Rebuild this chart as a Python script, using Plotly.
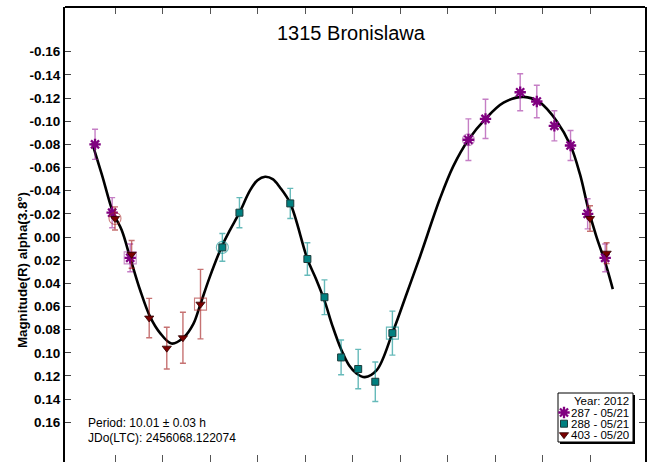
import plotly.graph_objects as go

# ---- Fourier fit of the lightcurve, sampled along rotational phase ----
fit_phase = [-0.048, -0.027, -0.004, 0.014, 0.032, 0.053, 0.074, 0.095, 0.119, 0.144,
             0.165, 0.179, 0.200, 0.225, 0.242, 0.262, 0.284, 0.300, 0.316, 0.332,
             0.347, 0.369, 0.405, 0.423, 0.441, 0.458, 0.476, 0.493, 0.509, 0.526,
             0.551, 0.584, 0.614, 0.642, 0.684, 0.712, 0.744, 0.780, 0.818, 0.860,
             0.895, 0.930, 0.959, 0.979, 0.996, 1.013, 1.032, 1.048]
fit_mag = [-0.081, -0.053, -0.021, -0.006, 0.018, 0.046, 0.069, 0.083, 0.092, 0.087,
           0.075, 0.059, 0.034, 0.008, -0.006, -0.021, -0.040, -0.049, -0.052, -0.050,
           -0.043, -0.029, 0.019, 0.036, 0.055, 0.077, 0.097, 0.111, 0.118, 0.121,
           0.115, 0.083, 0.049, 0.017, -0.033, -0.061, -0.084, -0.102, -0.116, -0.121,
           -0.116, -0.100, -0.079, -0.054, -0.025, -0.001, 0.022, 0.045]

# ---- Session 287 (2012-05-21) ----
s287_phase = [-0.042, -0.006, 0.032, 0.744, 0.780, 0.853, 0.888, 0.925, 0.959, 0.995, 1.032]
s287_mag = [-0.080, -0.021, 0.018, -0.084, -0.102, -0.125, -0.117, -0.096, -0.079, -0.020, 0.018]
s287_err = [0.013, 0.013, 0.012, 0.018, 0.017, 0.016, 0.014, 0.013, 0.013, 0.013, 0.012]
s287_first, s287_last = 3, 2

# ---- Session 288 (2012-05-21) ----
s288_phase = [0.226, 0.262, 0.369, 0.405, 0.441, 0.476, 0.512, 0.548, 0.584]
s288_mag = [0.009, -0.021, -0.029, 0.019, 0.052, 0.104, 0.114, 0.125, 0.083]
s288_err = [0.012, 0.013, 0.013, 0.014, 0.015, 0.015, 0.017, 0.017, 0.019]
s288_first, s288_last = 0, 8

# ---- Session 403 (2012-05-20) ----
s403_phase = [0.000, 0.035, 0.072, 0.109, 0.143, 0.180, 1.000, 1.035]
s403_mag = [-0.016, 0.015, 0.070, 0.096, 0.087, 0.058, -0.016, 0.014]
s403_err = [0.010, 0.012, 0.017, 0.018, 0.022, 0.030, 0.011, 0.009]
s403_first, s403_last = 0, 5

legend_labels = ["287 - 05/21", "288 - 05/21", "403 - 05/20"]
legend_title = "Year: 2012"
y_tick_vals = [-0.16, -0.14, -0.12, -0.10, -0.08, -0.06, -0.04, -0.02, 0.00,
               0.02, 0.04, 0.06, 0.08, 0.10, 0.12, 0.14, 0.16]
y_tick_text = ["-0.16", "-0.14", "-0.12", "-0.10", "-0.08", "-0.06", "-0.04", "-0.02", "0.00",
               "0.02", "0.04", "0.06", "0.08", "0.10", "0.12", "0.14", "0.16"]
x_tick_vals = [0.0, 0.1, 0.2, 0.3, 0.4, 0.5, 0.6, 0.7, 0.8, 0.9, 1.0]

W, H = 649, 462
ML, MR, MT, MB = 65, 4, 7, 0
FONT = "Liberation Sans, Arial, sans-serif"

series = [
    dict(x=s287_phase, y=s287_mag, e=s287_err, first=s287_first, last=s287_last,
         symbol="asterisk-open", size=9.5, color="#800080", line=dict(color="#800080", width=2.3),
         err="rgba(150,20,150,0.55)", ring="rgba(150,40,150,0.55)"),
    dict(x=s288_phase, y=s288_mag, e=s288_err, first=s288_first, last=s288_last,
         symbol="square", size=7, color="#008080", line=dict(color="#1a3a3a", width=1),
         err="rgba(0,140,140,0.6)", ring="rgba(0,140,140,0.6)"),
    dict(x=s403_phase, y=s403_mag, e=s403_err, first=s403_first, last=s403_last,
         symbol="triangle-down", size=8, color="#7a0000", line=dict(color="#300000", width=0.8),
         err="rgba(160,20,20,0.6)", ring="rgba(170,40,40,0.6)"),
]

fig = go.Figure()

fig.add_trace(go.Scatter(x=fit_phase, y=fit_mag, mode="lines",
                         line=dict(color="black", width=2.6, shape="spline", smoothing=1.0),
                         hoverinfo="skip"))

for s in series:
    fig.add_trace(go.Scatter(
        x=s["x"], y=s["y"], mode="markers",
        error_y=dict(type="data", array=s["e"], color=s["err"], thickness=1.4, width=3),
        marker=dict(symbol=s["symbol"], size=s["size"], color=s["color"], line=s["line"])))
    # first point of the session: open circle, last point: open square
    fig.add_trace(go.Scatter(
        x=[s["x"][s["first"]]], y=[s["y"][s["first"]]], mode="markers",
        marker=dict(symbol="circle-open", size=12, color=s["ring"], line=dict(width=1.1))))
    fig.add_trace(go.Scatter(
        x=[s["x"][s["last"]]], y=[s["y"][s["last"]]], mode="markers",
        marker=dict(symbol="square-open", size=12, color=s["ring"], line=dict(width=1.1))))

# ---- legend drawn on a pixel overlay (x2/y2) ----
LEG_L, LEG_T, LEG_R, LEG_B = 558, 393, 633, 442
LEG_ROWS = [412.5, 423.7, 434.7]
LEG_MARK_X = 564
shapes = [
    dict(type="rect", xref="x2", yref="y2", x0=LEG_L + 2, y0=LEG_T + 2, x1=LEG_R + 2, y1=LEG_B + 2,
         fillcolor="black", line=dict(width=0), layer="below"),
    dict(type="rect", xref="x2", yref="y2", x0=LEG_L, y0=LEG_T, x1=LEG_R, y1=LEG_B,
         fillcolor="white", line=dict(color="black", width=1), layer="below"),
    # top frame line
    dict(type="line", xref="paper", yref="paper", x0=0, x1=1, y0=1, y1=1,
         line=dict(color="black", width=2), layer="above"),
]
for s, row in zip(series, LEG_ROWS):
    fig.add_trace(go.Scatter(x=[LEG_MARK_X], y=[row], xaxis="x2", yaxis="y2", mode="markers",
                             marker=dict(symbol=s["symbol"], size=s["size"], color=s["color"],
                                         line=s["line"]), cliponaxis=False))

annotations = [
    dict(text="1315 Bronislawa", xref="x2", yref="y2", x=351, y=33, showarrow=False,
         font=dict(family=FONT, size=20, color="black"), xanchor="center", yanchor="middle"),
    dict(text="Magnitude(R) alpha(3.8°)", xref="paper", yref="paper",
         x=(22 - ML) / (W - ML - MR), y=(H - MB - 270) / (H - MT - MB), showarrow=False,
         textangle=-90, font=dict(family=FONT, size=13.3, color="black", weight="bold"),
         xanchor="center", yanchor="middle"),
    dict(text="Period: 10.01 ± 0.03 h", xref="x2", yref="y2", x=86, y=423, showarrow=False,
         font=dict(family=FONT, size=12, color="black"), xanchor="left", yanchor="middle"),
    dict(text="JDo(LTC): 2456068.122074", xref="x2", yref="y2", x=86, y=437.5, showarrow=False,
         font=dict(family=FONT, size=12, color="black"), xanchor="left", yanchor="middle"),
    dict(text=legend_title, xref="x2", yref="y2", x=631, y=400.5, showarrow=False,
         font=dict(family=FONT, size=11.5, color="black"), xanchor="right", yanchor="middle"),
]
for lab, row in zip(legend_labels, LEG_ROWS):
    annotations.append(dict(text=lab, xref="x2", yref="y2", x=631, y=row, showarrow=False,
                            font=dict(family=FONT, size=11.5, color="black"),
                            xanchor="right", yanchor="middle"))

fig.update_layout(
    width=W, height=H, margin=dict(l=ML, r=MR, t=MT, b=MB, pad=0),
    paper_bgcolor="white", plot_bgcolor="white", showlegend=False,
    font=dict(family=FONT, color="black"),
    xaxis=dict(range=[(ML - 115) / 475, (W - MR - 115) / 475], tickvals=x_tick_vals,
               showticklabels=False, ticks="inside", ticklen=7, tickcolor="#555", tickwidth=1,
               showline=False, mirror="ticks", showgrid=False, zeroline=False),
    yaxis=dict(range=[(H - MB - 237) / 1158, (MT - 237) / 1158], tickvals=y_tick_vals,
               ticktext=y_tick_text, ticks="inside", ticklen=6, tickcolor="#444", tickwidth=1,
               tickfont=dict(family=FONT, size=13.5, color="black", weight="bold"),
               showline=True, linecolor="black", linewidth=2, mirror="ticks",
               showgrid=False, zeroline=False),
    xaxis2=dict(overlaying="x", anchor="y2", range=[ML, W - MR], visible=False),
    yaxis2=dict(overlaying="y", anchor="x2", range=[H - MB, MT], visible=False),
    shapes=shapes, annotations=annotations,
)

fig.write_html("out.html")
